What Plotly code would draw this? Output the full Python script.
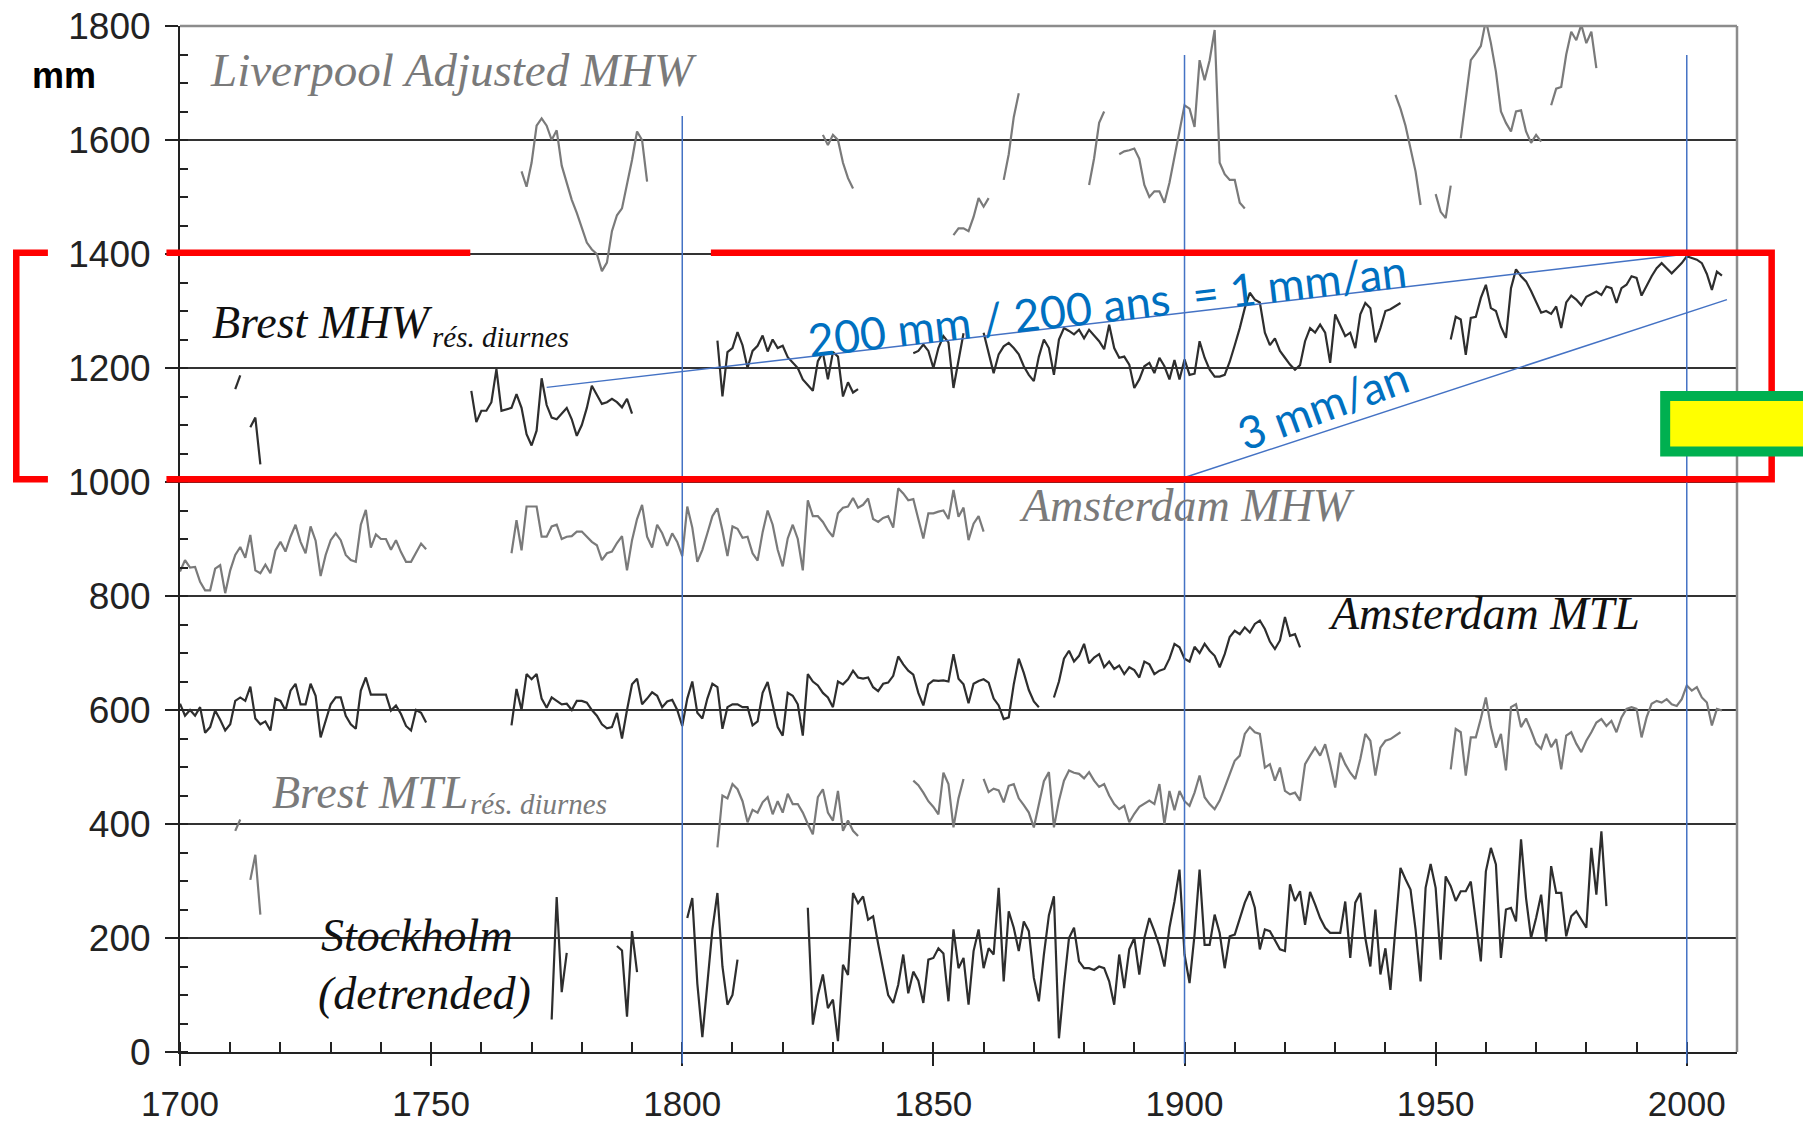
import plotly.graph_objects as go

# ---------------- data (annual values, mm) ----------------
# each series: list of segment start years + list of consecutive annual values
liverpool_start = [1768, 1828, 1854, 1864, 1881, 1887, 1942, 1950, 1955, 1973]
liverpool_vals = [
    [1545, 1518, 1560, 1625, 1638, 1625, 1600, 1617, 1555, 1525, 1495, 1472, 1445,
     1420, 1408, 1400, 1370, 1385, 1440, 1468, 1480, 1520, 1565, 1615, 1600, 1527],
    [1609, 1591, 1609, 1600, 1560, 1533, 1515],
    [1433, 1445, 1445, 1440, 1465, 1498, 1483, 1498],
    [1530, 1575, 1640, 1682],
    [1521, 1568, 1630, 1650],
    [1575, 1580, 1582, 1585, 1567, 1521, 1500, 1510, 1510, 1490, 1525, 1571, 1620,
     1661, 1655, 1623, 1740, 1705, 1740, 1793, 1560, 1540, 1530, 1530, 1490, 1480],
    [1679, 1655, 1625, 1587, 1545, 1486],
    [1505, 1474, 1463, 1520],
    [1603, 1670, 1740, 1752, 1765, 1810, 1770, 1720, 1650, 1630, 1615, 1650, 1652,
     1615, 1595, 1609, 1597],
    [1661, 1690, 1693, 1750, 1790, 1775, 1802, 1770, 1790, 1726],
]

brest_mhw_start = [1711, 1714, 1758, 1807, 1846, 1860, 1953]
brest_mhw_vals = [
    [1163, 1187],
    [1096, 1113, 1031],
    [1160, 1105,
     1125, 1125, 1140, 1198, 1125, 1128, 1130, 1154, 1130, 1084,
     1064, 1090, 1182, 1135, 1113, 1110, 1120, 1130, 1110, 1081,
     1100, 1130, 1169, 1152, 1137, 1140, 1146, 1140, 1131, 1146, 1120],
    [1248, 1150, 1228, 1235, 1263, 1240, 1200, 1230, 1239, 1257, 1229, 1250, 1235,
     1239, 1219, 1210, 1200, 1180, 1170, 1160, 1212, 1227, 1180, 1228, 1220, 1150,
     1175, 1157, 1163],
    [1226, 1230, 1241, 1230, 1200, 1235, 1256, 1245, 1165, 1215, 1261],
    [1262, 1228, 1191, 1224, 1238, 1244, 1235, 1224, 1203, 1188,
     1177, 1220, 1250, 1235, 1188, 1250, 1270, 1265, 1259, 1267,
     1252, 1267, 1256, 1247, 1233, 1276, 1235, 1218, 1220, 1206,
     1165, 1180, 1203, 1209, 1191, 1218, 1203, 1180, 1214, 1180,
     1215, 1188, 1190, 1247, 1218, 1197, 1185, 1185, 1188, 1211,
     1240, 1270, 1305, 1332, 1320, 1315, 1262, 1240, 1252, 1230,
     1218, 1206, 1197, 1205, 1247, 1270, 1262, 1276, 1262, 1209,
     1294, 1276, 1256, 1262, 1235, 1294, 1314, 1305, 1245, 1270,
     1300, 1303, 1309, 1314],
    [1250, 1290, 1285, 1223, 1288, 1290, 1323,
     1346, 1305, 1300, 1272, 1253, 1340, 1373, 1361, 1352, 1335,
     1315, 1297, 1300, 1295, 1308, 1270, 1315, 1327, 1320, 1310,
     1325, 1330, 1334, 1328, 1343, 1340, 1314, 1340, 1346, 1361,
     1358, 1327, 1345, 1361, 1375, 1384, 1375, 1366, 1375, 1384,
     1396, 1393, 1390, 1384, 1365, 1337, 1369, 1362],
]

ams_mhw_start = [1700, 1766]
ams_mhw_vals = [
    [843, 863, 850, 851, 825, 810, 810, 848, 854, 805,
     845, 872, 886, 867, 907, 845, 840, 855, 840, 880,
     895, 878, 904, 925, 895, 875, 922, 897, 835, 872,
     898, 910, 898, 872, 863, 860, 925, 951, 885, 908,
     900, 900, 881, 898, 877, 860, 860, 875, 892, 882],
    [875, 933, 880, 957,
     957, 957, 904, 904, 922, 925, 900, 904, 905, 913,
     913, 904, 895, 889, 863, 875, 878, 893, 905, 845,
     898, 935, 960, 904, 885, 925, 910, 888, 910, 895,
     870, 957, 920, 860, 881, 910, 940, 954, 915, 870,
     922, 918, 902, 904, 875, 862, 912, 950, 925, 881,
     852, 901, 925, 900, 845, 968, 940, 940, 930, 915,
     904, 945, 955, 957, 972, 955, 960, 971, 935, 930,
     937, 940, 920, 989, 980, 968, 970, 935, 901, 945,
     945, 948, 950, 935, 986, 939, 955, 898, 927, 940, 913],
]

ams_mtl_start = [1700, 1766, 1874]
ams_mtl_vals = [
    [611, 590, 600, 590, 605, 560, 570, 599, 583, 564,
     575, 616, 622, 616, 641, 585, 575, 580, 564, 620,
     616, 599, 634, 646, 610, 610, 646, 625, 552, 580,
     610, 622, 622, 590, 575, 567, 634, 657, 627, 627,
     627, 627, 599, 608, 593, 572, 564, 600, 595, 578],
    [573, 637, 600, 663,
     654, 663, 620, 604, 622, 616, 610, 611, 600, 616,
     616, 613, 600, 590, 575, 568, 570, 595, 550, 600,
     645, 655, 610, 620, 631, 625, 605, 615, 618, 600,
     572, 620, 650, 595, 585, 620, 646, 640, 567, 605,
     610, 610, 605, 605, 573, 580, 630, 649, 610, 570,
     555, 630, 625, 610, 555, 663, 650, 643, 630, 622,
     605, 650, 645, 654, 669, 657, 655, 657, 640, 633,
     646, 648, 660, 694, 680, 669, 662, 630, 608, 645,
     652, 651, 652, 650, 698, 655, 645, 612, 646, 651,
     654, 648, 620, 608, 584, 587, 645, 690, 665, 635, 615, 605],
    [622, 650, 690, 704, 685, 695,
     716, 682, 692, 698, 675, 685, 672, 678, 663, 675,
     670, 657, 685, 680, 663, 669, 672, 690, 716, 710,
     690, 685, 711, 700, 716, 704, 695, 675, 698, 728,
     739, 733, 745, 736, 751, 757, 742, 720, 707, 722,
     763, 730, 733, 710],
]

brest_mtl_start = [1711, 1714, 1807, 1846, 1860, 1953]
brest_mtl_vals = [
    [388, 408],
    [302, 346, 241],
    [359, 450, 445, 470, 461, 440, 403, 425, 420, 438, 447, 417, 440, 420, 453,
     435, 435, 420, 400, 382, 447, 461, 420, 406, 458, 388, 406, 388, 379],
    [476, 468, 455, 440, 430, 417, 490, 470, 394, 445, 479],
    [479, 456, 462, 459, 438, 467, 470, 445, 433, 420,
     394, 435, 475, 491, 394, 441, 476, 494, 490, 488,
     480, 491, 476, 465, 470, 450, 435, 426, 432, 403,
     418, 430, 435, 441, 435, 470, 400, 458, 424, 458,
     440, 432, 455, 485, 447, 435, 426, 441, 464, 488,
     511, 520, 558, 570, 561, 558, 499, 505, 476, 499,
     458, 452, 455, 441, 505, 520, 534, 520, 540, 505,
     464, 525, 505, 490, 479, 514, 558, 546, 485, 534,
     546, 549, 555, 561],
    [496, 567, 561, 485, 552, 552, 585,
     622, 570, 534, 558, 494, 605, 610, 570, 585, 564,
     541, 532, 558, 535, 549, 496, 555, 561, 541, 526,
     546, 561, 578, 584, 572, 581, 561, 587, 602, 605,
     602, 552, 587, 611, 616, 613, 619, 610, 607, 619,
     643, 634, 640, 622, 613, 573, 602, 599],
]

stockholm_start = [1774, 1787, 1801, 1825]
stockholm_vals = [
    [57, 272, 105, 174],
    [186, 178, 62, 212, 140],
    [235, 270, 120, 26, 120, 215, 279, 150, 83, 100, 162],
    [253, 48, 100, 136, 77,
     92, 19, 153, 135, 279, 261, 273, 232, 238, 190,
     147, 100, 86, 118, 171, 103, 141, 125, 86, 162,
     165, 182, 173, 89, 215, 147, 165, 83, 177, 215,
     147, 182, 171, 288, 124, 247, 218, 177, 229, 212,
     130, 89, 171, 240, 273, 24, 118, 200, 218, 159,
     147, 147, 144, 150, 147, 124, 83, 171, 112, 180,
     200, 136, 200, 235, 212, 186, 150, 218, 264, 320,
     171, 121, 206, 320, 188, 188, 241, 209, 147, 203,
     206, 235, 262, 282, 253, 180, 215, 212, 197, 180,
     177, 294, 265, 282, 223, 281, 259, 235, 218, 209,
     209, 209, 264, 165, 262, 279, 200, 150, 250, 136,
     182, 109, 218, 323, 303, 285, 215, 124, 288, 330,
     288, 162, 308, 291, 265, 282, 282, 299, 229, 159,
     317, 358, 329, 165, 250, 253, 229, 373, 270, 200,
     235, 276, 194, 326, 279, 279, 203, 238, 247, 232,
     218, 358, 276, 387, 256],
]

x_ticks = [1700, 1750, 1800, 1850, 1900, 1950, 2000]
y_ticks = [0, 200, 400, 600, 800, 1000, 1200, 1400, 1600, 1800]
X_MIN, X_MAX = 1700, 2010
Y_MIN, Y_MAX = 0, 1800

# annotation lines (blue)
ref_years = [1800, 1900, 2000]
trend_1mm = ([1773, 2000], [1166, 1400])
trend_3mm = ([1900, 2008], [1008, 1320])

BLACK = "#2e2e2e"
GRAY = "#7a7a7a"
BLUE_LINE = "#4472C4"
BLUE_TEXT = "#0070C0"
RED = "#FF0000"


def build(starts, vals):
    xs, ys = [], []
    for s, v in zip(starts, vals):
        xs.extend(range(s, s + len(v)))
        ys.extend(v)
        xs.append(None)
        ys.append(None)
    return xs, ys


def px(year):
    return (year - X_MIN) / (X_MAX - X_MIN)


def py(mm):
    return (mm - Y_MIN) / (Y_MAX - Y_MIN)


fig = go.Figure()
series = [
    (liverpool_start, liverpool_vals, GRAY),
    (ams_mhw_start, ams_mhw_vals, GRAY),
    (brest_mtl_start, brest_mtl_vals, GRAY),
    (brest_mhw_start, brest_mhw_vals, BLACK),
    (ams_mtl_start, ams_mtl_vals, BLACK),
    (stockholm_start, stockholm_vals, BLACK),
]
for st, vl, col in series:
    xs, ys = build(st, vl)
    fig.add_trace(go.Scatter(x=xs, y=ys, mode="lines", connectgaps=False,
                             line=dict(color=col, width=2.2), hoverinfo="skip",
                             showlegend=False))

shapes = []
# frame: top and right border (gray)
shapes.append(dict(type="line", xref="paper", yref="paper", x0=0, x1=1, y0=1, y1=1,
                   line=dict(color="#8c8c8c", width=2.5), layer="above"))
shapes.append(dict(type="line", xref="paper", yref="paper", x0=1, x1=1, y0=0, y1=1,
                   line=dict(color="#8c8c8c", width=2.5), layer="above"))
# blue reference verticals
for yr, top in zip(ref_years, [1642, 1749, 1749]):
    shapes.append(dict(type="line", xref="x", yref="paper", x0=yr, x1=yr,
                       y0=py(-20), y1=py(top),
                       line=dict(color=BLUE_LINE, width=1.5), layer="above"))
# blue trend lines
for (xx, yy) in (trend_1mm, trend_3mm):
    shapes.append(dict(type="line", xref="x", yref="y", x0=xx[0], x1=xx[1],
                       y0=yy[0], y1=yy[1],
                       line=dict(color=BLUE_LINE, width=1.5), layer="above"))
# red box / bracket
RT, RB = 1402, 1005
red = dict(color=RED, width=6.5)
shapes.append(dict(type="line", xref="paper", yref="paper",
                   x0=px(1697.3), x1=px(1757.8), y0=py(RT), y1=py(RT), line=red, layer="above"))
shapes.append(dict(type="path", xref="paper", yref="paper",
                   path=f"M {px(1805.7)},{py(RT)} L {px(2016.9)},{py(RT)} "
                        f"L {px(2016.9)},{py(RB)} L {px(1697.3)},{py(RB)}",
                   line=red, layer="above"))
shapes.append(dict(type="path", xref="paper", yref="paper",
                   path=f"M {px(1673.7)},{py(RT)} L {px(1667.4)},{py(RT)} "
                        f"L {px(1667.4)},{py(RB)} L {px(1673.7)},{py(RB)}",
                   line=red, layer="above"))
# green / yellow box
shapes.append(dict(type="rect", xref="paper", yref="paper",
                   x0=px(1995.7), x1=px(2030), y0=py(1053.5), y1=py(1150.8),
                   fillcolor="#FFFF00", line=dict(color="#00B050", width=10), layer="above"))

SERIF = "Liberation Serif"
ann = []


def label(text, x, y, color, size=46):
    ann.append(dict(text=f"<i>{text}</i>", x=x, y=y, xref="x", yref="y",
                    xanchor="left", yanchor="middle", showarrow=False,
                    font=dict(family=SERIF, size=size, color=color)))


label("Liverpool Adjusted MHW", 1705.5, 1723, GRAY, 47)
label("Brest MHW", 1705.9, 1279, "#111111")
label("rés. diurnes", 1749.8, 1255, "#111111", 29)
label("Amsterdam MHW", 1866.7, 959, GRAY)
label("Amsterdam MTL", 1928.2, 770, "#111111")
label("Brest MTL", 1718.0, 455, GRAY)
label("rés. diurnes", 1757.3, 435, GRAY, 29)
label("Stockholm", 1727.7, 205, "#111111")
label("(detrended)", 1727.1, 103, "#111111")

ann.append(dict(text="200 mm / 200 ans  = 1 mm/an", x=1884.6, y=1310, xref="x", yref="y",
                showarrow=False, textangle=-6.7, xanchor="center", yanchor="middle",
                font=dict(family="Lato", size=45, color=BLUE_TEXT)))
ann.append(dict(text="3 mm/an", x=1927.5, y=1135, xref="x", yref="y",
                showarrow=False, textangle=-20, xanchor="center", yanchor="middle",
                font=dict(family="Lato", size=45, color=BLUE_TEXT)))
ann.append(dict(text="<b>mm</b>", x=-0.0745, y=0.952, xref="paper", yref="paper",
                showarrow=False, xanchor="center", yanchor="middle",
                font=dict(family="Liberation Sans", size=36, color="#000000")))

axis_font = dict(family="Liberation Sans", size=37, color="#222222")
x_font = dict(family="Liberation Sans", size=35, color="#222222")
fig.update_layout(
    template="none",
    width=1803, height=1125,
    margin=dict(l=180, r=66, t=26, b=73, pad=0, autoexpand=False),
    paper_bgcolor="white", plot_bgcolor="white",
    shapes=shapes, annotations=ann, showlegend=False,
    xaxis=dict(range=[X_MIN, X_MAX], tickmode="array", tickvals=x_ticks,
               automargin=False,
               ticks="outside", ticklen=12, tickwidth=2, tickcolor="#222222",
               showline=True, linecolor="#222222", linewidth=2,
               showgrid=False, zeroline=False, tickfont=x_font,
               ticklabelstandoff=8,
               minor=dict(dtick=10, tick0=1700, ticks="inside", ticklen=10,
                          tickwidth=1.5, tickcolor="#222222", showgrid=False)),
    yaxis=dict(range=[Y_MIN, Y_MAX], tickmode="array", tickvals=y_ticks,
               automargin=False,
               ticks="outside", ticklen=13, tickwidth=2, tickcolor="#222222",
               showline=True, linecolor="#222222", linewidth=2,
               showgrid=True, gridcolor="#333333", gridwidth=1.5,
               zeroline=False, tickfont=axis_font, ticklabelstandoff=7,
               minor=dict(dtick=50, tick0=0, ticks="inside", ticklen=8,
                          tickwidth=1.5, tickcolor="#222222", showgrid=False)),
)

fig.write_html("out.html", config={"displayModeBar": False},
               post_script="document.body.style.margin='0';document.body.style.overflow='hidden';")
